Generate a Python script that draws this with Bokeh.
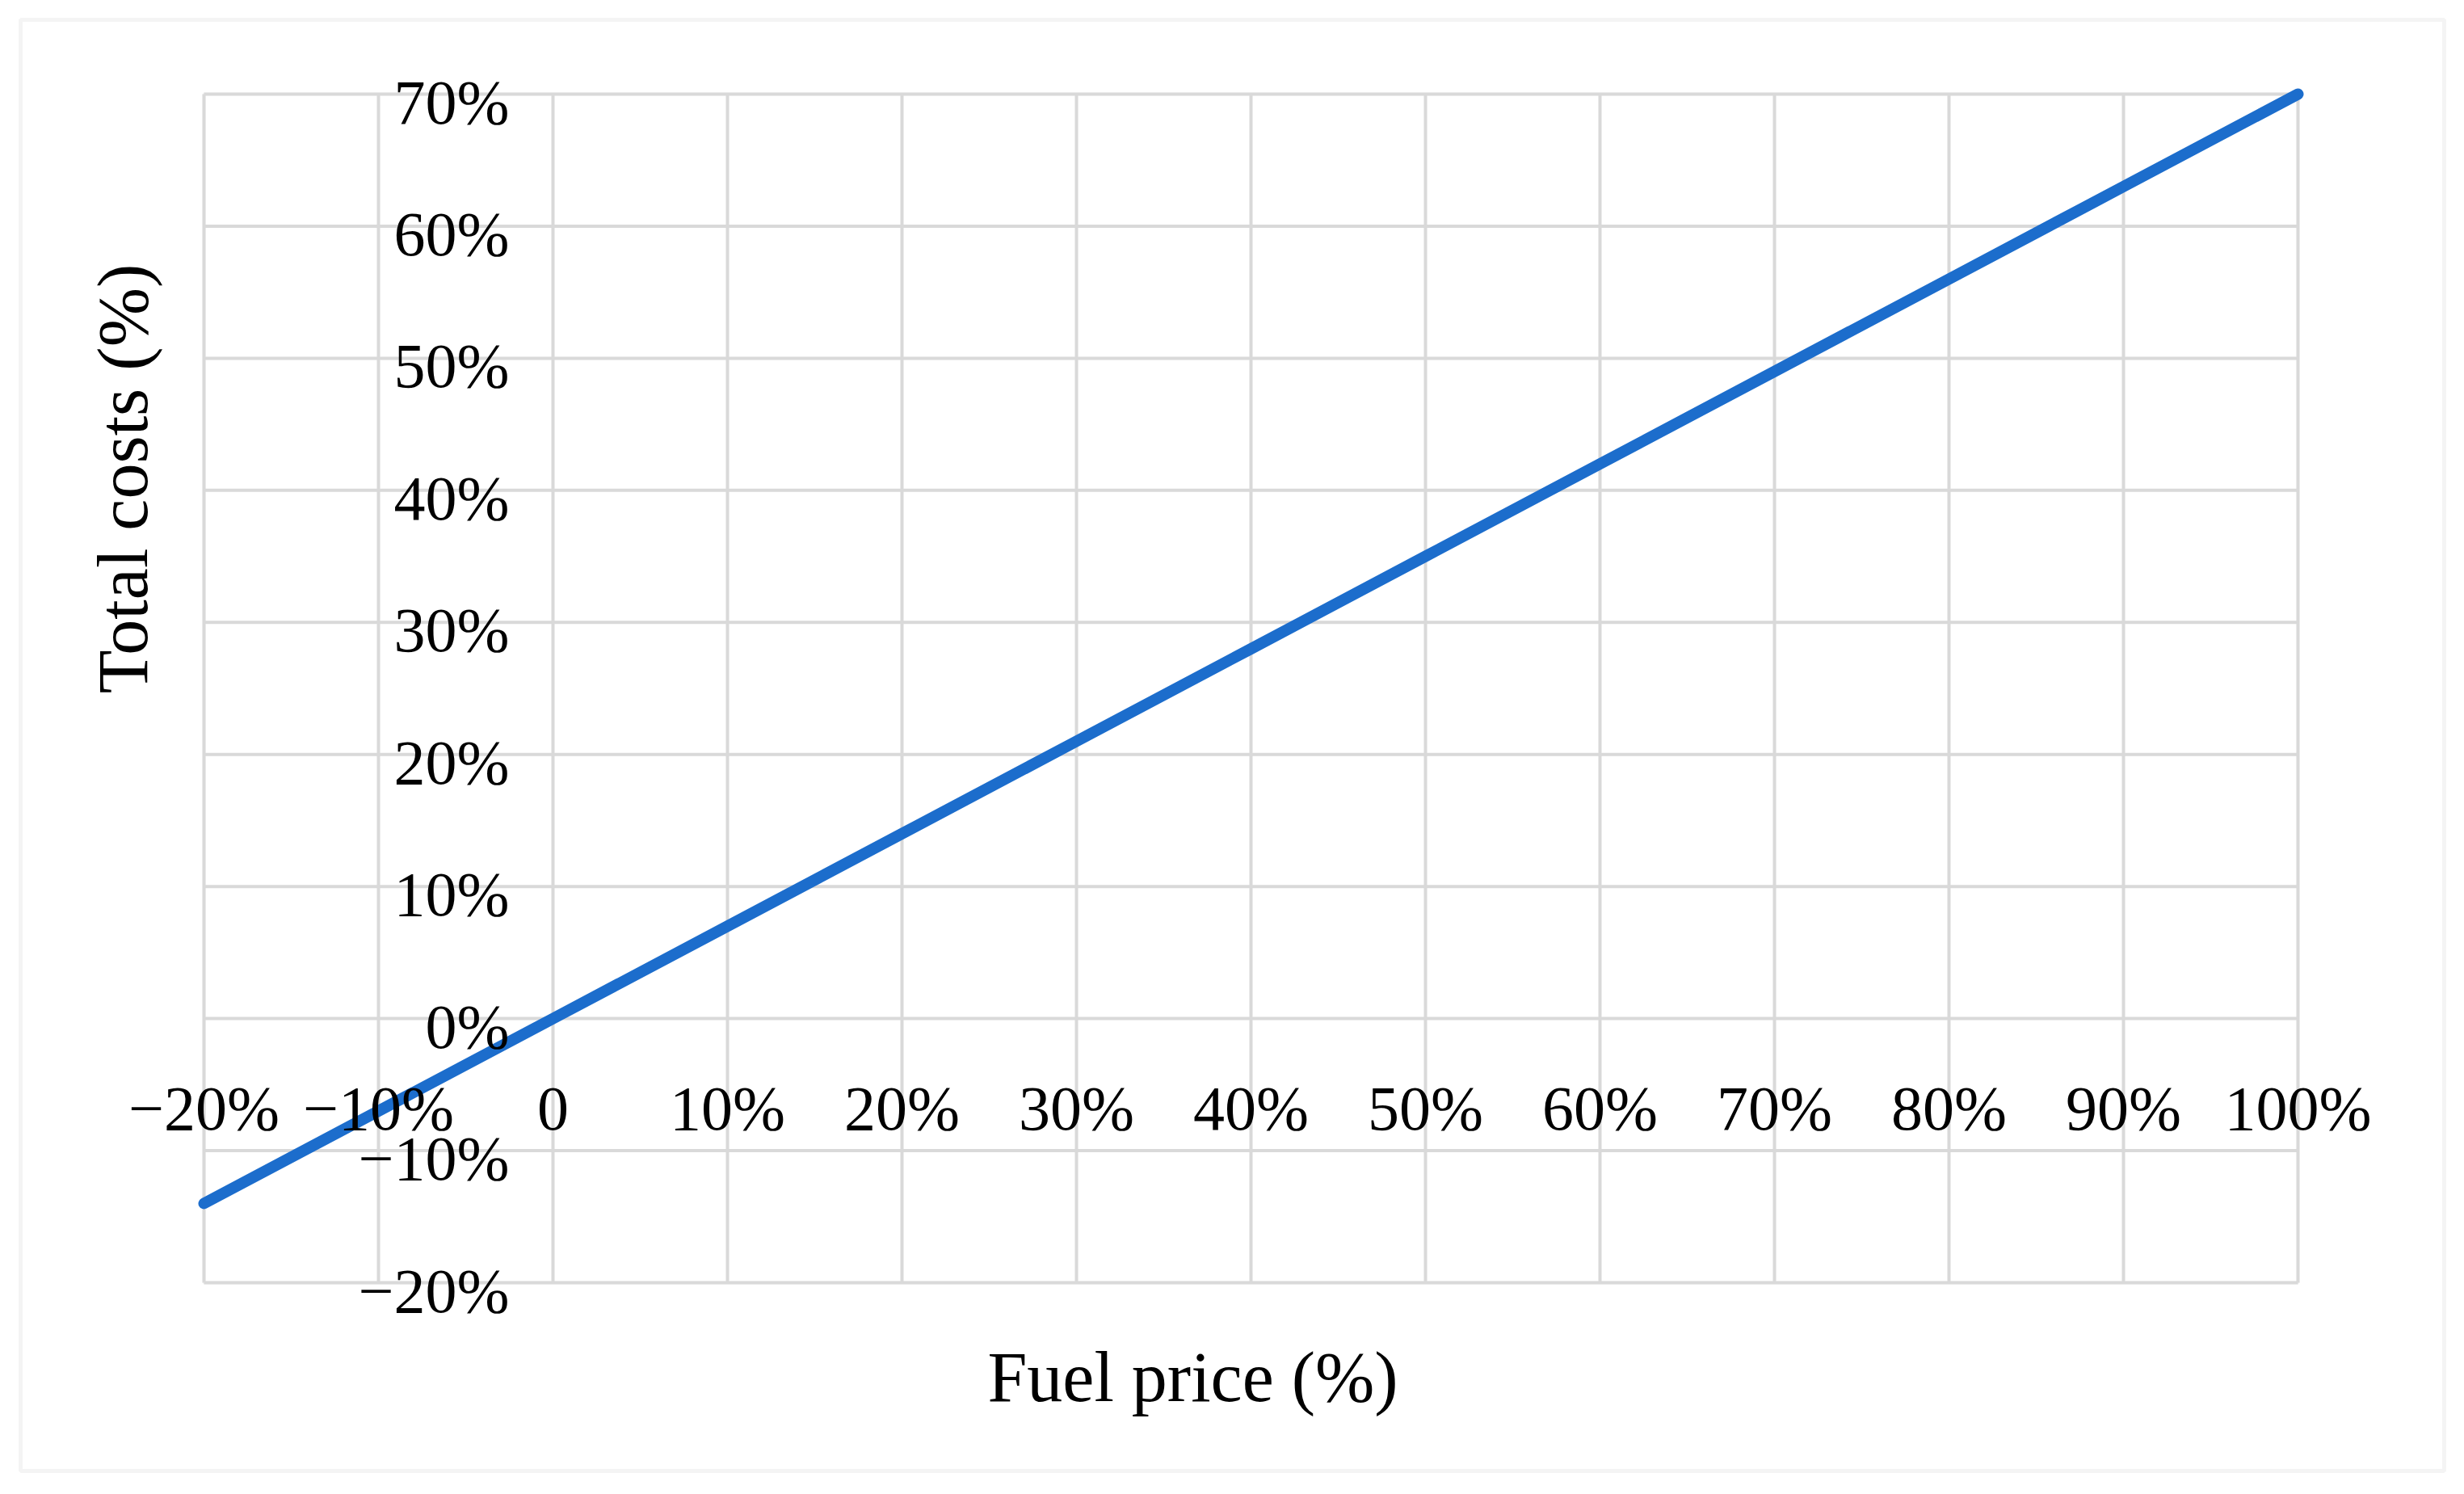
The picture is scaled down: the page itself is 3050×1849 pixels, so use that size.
from bokeh.plotting import figure
from bokeh.models import (Range1d, LabelSet, Label, BoxAnnotation,
                          ColumnDataSource)
from bokeh.embed import file_html
from bokeh.resources import INLINE

# ---- data (percent units) ----
fuel_price = [-20, -10, 0, 10, 20, 30, 40, 50, 60, 70, 80, 90, 100]
total_costs = [-14, -7, 0, 7, 14, 21, 28, 35, 42, 49, 56, 63, 70]

x_ticks = [-20, -10, 0, 10, 20, 30, 40, 50, 60, 70, 80, 90, 100]
x_tick_labels = ["\u221220%", "\u221210%", "0", "10%", "20%", "30%", "40%",
                 "50%", "60%", "70%", "80%", "90%", "100%"]
y_ticks = [-20, -10, 0, 10, 20, 30, 40, 50, 60, 70]
y_tick_labels = ["\u221220%", "\u221210%", "0%", "10%", "20%", "30%", "40%",
                 "50%", "60%", "70%"]

x_title = "Fuel price (%)"
y_title = "Total costs (%)"

# ---- layout / style ----
FONT = "Liberation Serif"
GRID = "#d9d9d9"
W, H = 3040, 1840
# plot area in page pixels: x -20..100 -> 252..2844, y 70..-20 -> 116..1587
SX = (2844 - 252) / (x_ticks[-1] - x_ticks[0])
SY = (1587 - 116) / (y_ticks[-1] - y_ticks[0])


def xd(px):
    return x_ticks[0] + (px - 252) / SX


def yd(py):
    return y_ticks[-1] - (py - 116) / SY


p = figure(width=W, height=H,
           x_range=Range1d(xd(0), xd(W)), y_range=Range1d(yd(H), yd(0)),
           output_backend="svg", toolbar_location=None,
           x_axis_location=None, y_axis_location=None,
           min_border_left=0, min_border_right=0,
           min_border_top=0, min_border_bottom=0)
p.background_fill_color = "white"
p.border_fill_color = "white"
p.outline_line_color = None
p.grid.visible = False

# outer chart border
p.add_layout(BoxAnnotation(left=xd(25), right=xd(3025), top=yd(24),
                           bottom=yd(1820), fill_alpha=0, line_color=GRID,
                           line_width=5, level="underlay"))
# plot area outline
p.add_layout(BoxAnnotation(left=x_ticks[0], right=x_ticks[-1],
                           bottom=y_ticks[0], top=y_ticks[-1], fill_alpha=0,
                           line_color=GRID, line_width=4, level="underlay"))

# gridlines
p.segment(x0=x_ticks, x1=x_ticks,
          y0=[y_ticks[0]] * len(x_ticks), y1=[y_ticks[-1]] * len(x_ticks),
          line_color=GRID, line_width=4)
p.segment(x0=[x_ticks[0]] * len(y_ticks), x1=[x_ticks[-1]] * len(y_ticks),
          y0=y_ticks, y1=y_ticks, line_color=GRID, line_width=4)

# data line
p.line(fuel_price, total_costs, line_color="#1C6DCC", line_width=14,
       line_cap="round")

# tick labels at the crossing axes (x labels along y=0, y labels along x=0)
xsrc = ColumnDataSource(dict(x=x_ticks, y=[0] * len(x_ticks), t=x_tick_labels))
ysrc = ColumnDataSource(dict(x=[0] * len(y_ticks), y=y_ticks, t=y_tick_labels))
p.add_layout(LabelSet(source=xsrc, x="x", y="y", text="t",
                      text_align="center", text_baseline="alphabetic",
                      y_offset=-137, text_font=FONT, text_font_size="78px",
                      text_color="#000000"))
p.add_layout(LabelSet(source=ysrc, x="x", y="y", text="t",
                      text_align="right", text_baseline="alphabetic",
                      x_offset=-54, y_offset=-36, text_font=FONT,
                      text_font_size="78px", text_color="#000000"))

# axis titles
p.add_layout(Label(x=xd(1476), y=yd(1704), text=x_title, text_align="center",
                   text_baseline="alphabetic", text_font=FONT,
                   text_font_size="88px", text_color="#000000"))
p.add_layout(Label(x=xd(152), y=yd(592), text=y_title, angle=90,
                   angle_units="deg", text_align="center",
                   text_baseline="alphabetic", text_font=FONT,
                   text_font_size="88px", text_color="#000000"))

open("out.html", "w").write(file_html(p, INLINE))
